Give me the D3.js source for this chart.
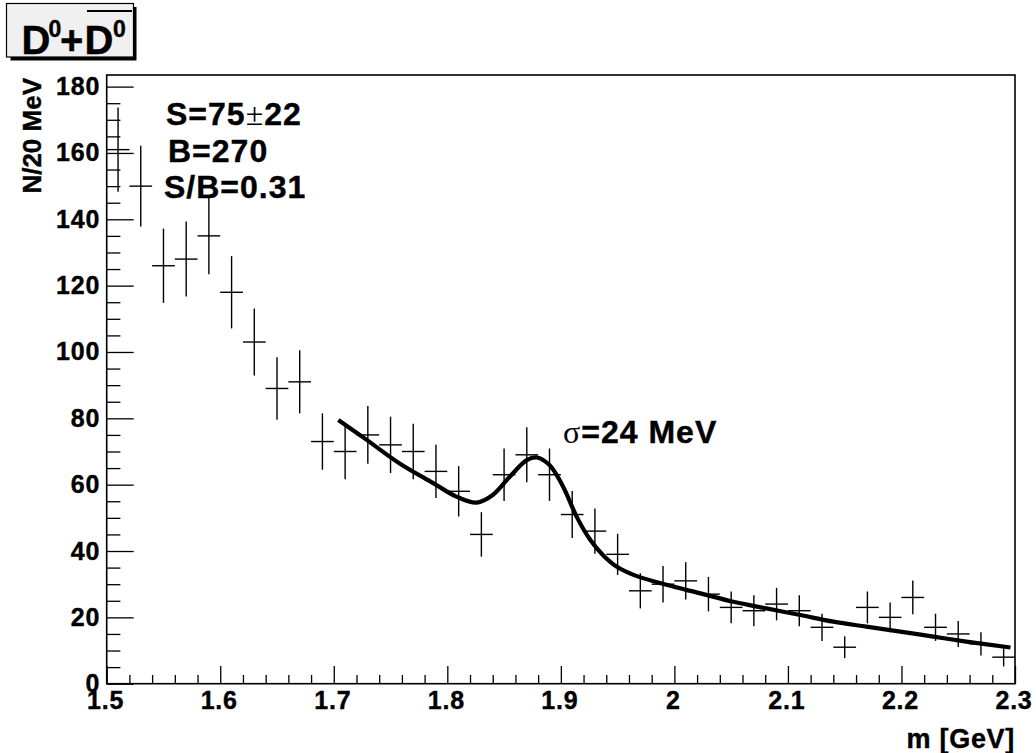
<!DOCTYPE html>
<html>
<head>
<meta charset="utf-8">
<script src="https://cdn.jsdelivr.net/npm/d3@7"></script>
<style>
  html, body { margin: 0; padding: 0; background: #fff; }
  svg { display: block; }
  text { font-family: "Liberation Sans", Arial, Helvetica, sans-serif; font-weight: bold; fill: #000; stroke: #000; stroke-width: 0.4; }
</style>
</head>
<body>
<svg id="chart" width="1036" height="753"></svg>
<script>
// bin centres, GeV (20 MeV bins)
const binCenters = [
  1.51, 1.53, 1.55, 1.57, 1.59, 1.61, 1.63, 1.65, 1.67, 1.69,
  1.71, 1.73, 1.75, 1.77, 1.79, 1.81, 1.83, 1.85, 1.87, 1.89,
  1.91, 1.93, 1.95, 1.97, 1.99, 2.01, 2.03, 2.05, 2.07, 2.09,
  2.11, 2.13, 2.15, 2.17, 2.19, 2.21, 2.23, 2.25, 2.27, 2.29
]
const binWidth = 0.02

// entries per bin
const counts = [
  161, 150, 126, 128, 135, 118, 103, 89, 91, 73,
  70, 75, 72, 70, 64, 58, 45, 63, 69, 63,
  51, 46, 39, 28, 30, 31, 27, 23, 22, 24,
  22, 17, 11, 23, 20, 26, 17, 15, 12, 8
]

// statistical errors
const errors = [
  12.7, 12.2, 11.2, 11.3, 11.6, 10.9, 10.1, 9.4, 9.5, 8.5,
  8.4, 8.7, 8.5, 8.4, 8.0, 7.6, 6.7, 7.9, 8.3, 7.9,
  7.1, 6.8, 6.2, 5.3, 5.5, 5.6, 5.2, 4.8, 4.7, 4.9,
  4.7, 4.1, 3.3, 4.8, 4.5, 5.1, 4.1, 3.9, 3.5, 2.8
]

// fit curve (signal + background)
const fitMass = [
  1.704, 1.729, 1.758, 1.788, 1.808, 1.826, 1.840, 1.855, 1.870, 1.879,
  1.890, 1.902, 1.914, 1.926, 1.937, 1.949, 1.964, 1.993, 2.022, 2.052,
  2.081, 2.111, 2.140, 2.169, 2.199, 2.228, 2.257, 2.296
]
const fitValue = [
  79.5, 73.5, 66.4, 60.4, 56.4, 54.6, 56.9, 62.4, 67.4, 68.2,
  65.9, 59.4, 50.3, 43.3, 38.8, 35.3, 32.8, 29.8, 27.3, 24.7,
  22.7, 20.7, 18.7, 17.2, 15.7, 14.2, 12.7, 10.9
]

// axis ticks
const xTicks = [1.5, 1.6, 1.7, 1.8, 1.9, 2.0, 2.1, 2.2, 2.3]
const yTicks = [0, 20, 40, 60, 80, 100, 120, 140, 160, 180]

const svg = d3.select('#chart')

const frame = { left: 106.7, right: 1015, top: 75, bottom: 683.7 }

const x = d3.scaleLinear()
  .domain([1.5, 2.3])
  .range([frame.left, frame.right])

const y = d3.scaleLinear()
  .domain([0, 183.5])
  .range([frame.bottom, frame.top])

/**
 * 标题框 D0 + D0bar
 */
function drawTitle(selection) {
  const g = selection.append('g')

  // shadow
  g.append('rect')
    .attr('x', 10.5).attr('y', 7)
    .attr('width', 126).attr('height', 53.5)
    .attr('fill', '#000')

  g.append('rect')
    .attr('x', 6.5).attr('y', 3.5)
    .attr('width', 127).attr('height', 53.5)
    .attr('fill', '#f0f0f0')
    .attr('stroke', '#000')
    .attr('stroke-width', 1.2)

  const t = g.append('text')
    .attr('font-size', 40)

  t.append('tspan').attr('x', 21.5).attr('y', 53.5).text('D')
  t.append('tspan').attr('x', 48.5).attr('y', 36.5).attr('font-size', 23).text('0')
  t.append('tspan').attr('x', 60).attr('y', 53.5).text('+')
  t.append('tspan').attr('x', 84.5).attr('y', 53.5).text('D')
  t.append('tspan').attr('x', 113).attr('y', 36.5).attr('font-size', 23).text('0')

  // bar over the second D0
  g.append('line')
    .attr('x1', 87).attr('x2', 132)
    .attr('y1', 11).attr('y2', 11)
    .attr('stroke', '#000')
    .attr('stroke-width', 2)
}

/**
 * 坐标轴和外框
 */
function drawAxes(selection) {
  const yMinor = d3.range(0, 184, 5).filter(d => d % 20 !== 0)
  const xMinor = d3.range(1.5, 2.301, 0.02).filter(d => Math.abs(d * 10 - Math.round(d * 10)) > 1e-6)

  // y minor ticks
  selection.append('g')
    .attr('transform', `translate(${frame.left},0)`)
    .call(d3.axisLeft(y).tickValues(yMinor).tickSize(-13.7).tickSizeOuter(0).tickFormat(''))
    .call(g => g.select('.domain').remove())

  // y major ticks
  selection.append('g')
    .attr('class', 'y-axis')
    .attr('transform', `translate(${frame.left},0)`)
    .call(d3.axisLeft(y).tickValues(yTicks).tickSize(-27).tickSizeOuter(0).tickPadding(6.5))
    .call(g => g.select('.domain').remove())

  // x minor ticks
  selection.append('g')
    .attr('transform', `translate(0,${frame.bottom})`)
    .call(d3.axisBottom(x).tickValues(xMinor).tickSize(-8.7).tickSizeOuter(0).tickFormat(''))
    .call(g => g.select('.domain').remove())

  // x major ticks
  selection.append('g')
    .attr('class', 'x-axis')
    .attr('transform', `translate(0,${frame.bottom})`)
    .call(d3.axisBottom(x).tickValues(xTicks).tickSize(-17.7).tickSizeOuter(0).tickPadding(8)
      .tickFormat(d => d3.format('')(+d.toFixed(1))))
    .call(g => g.select('.domain').remove())

  selection.selectAll('.tick line')
    .attr('stroke', '#000')
    .attr('stroke-width', 1.3)

  selection.selectAll('.tick text')
    .attr('font-family', '"Liberation Sans", Arial, sans-serif')
    .attr('font-weight', 'bold')
    .attr('font-size', 25)
    .attr('letter-spacing', 0.8)
    .attr('fill', '#000')

  selection.selectAll('.x-axis .tick text').attr('dx', -1.5)

  // frame
  selection.append('rect')
    .attr('x', frame.left).attr('y', frame.top)
    .attr('width', frame.right - frame.left)
    .attr('height', frame.bottom - frame.top)
    .attr('fill', 'none')
    .attr('stroke', '#000')
    .attr('stroke-width', 1.6)

  // axis titles
  selection.append('text')
    .attr('transform', 'translate(41,78) rotate(-90)')
    .attr('text-anchor', 'end')
    .attr('font-size', 26)
    .text('N/20 MeV')

  selection.append('text')
    .attr('x', frame.right)
    .attr('y', 748)
    .attr('text-anchor', 'end')
    .attr('font-size', 27)
    .attr('letter-spacing', 0.7)
    .text('m [GeV]')
}

/**
 * 数据点 (误差十字)
 */
function drawPoints(selection) {
  const pts = selection.append('g')
    .attr('stroke', '#000')
    .attr('stroke-width', 1.4)
    .selectAll('g')
    .data(binCenters.map((m, i) => ({ m, n: counts[i], e: errors[i] })))
    .join('g')

  pts.append('line')
    .attr('x1', d => x(d.m - binWidth / 2))
    .attr('x2', d => x(d.m + binWidth / 2))
    .attr('y1', d => y(d.n))
    .attr('y2', d => y(d.n))

  pts.append('line')
    .attr('x1', d => x(d.m))
    .attr('x2', d => x(d.m))
    .attr('y1', d => y(d.n - d.e))
    .attr('y2', d => y(d.n + d.e))
}

/**
 * 拟合曲线
 */
function drawFit(selection) {
  const line = d3.line()
    .x(d => x(d[0]))
    .y(d => y(d[1]))
    .curve(d3.curveCatmullRom.alpha(0.5))

  selection.append('path')
    .datum(fitMass.map((m, i) => [m, fitValue[i]]))
    .attr('d', line)
    .attr('fill', 'none')
    .attr('stroke', '#000')
    .attr('stroke-width', 4.2)
}

/**
 * 文字标注
 */
function drawLabels(selection) {
  const g = selection.append('g')
    .attr('font-size', 32)
    .attr('letter-spacing', 1)

  const s = g.append('text').attr('x', 166).attr('y', 125)
  s.append('tspan').text('S=75')
  s.append('tspan')
    .attr('font-family', '"Liberation Serif", "Times New Roman", serif')
    .attr('font-weight', 'normal')
    .attr('stroke-width', 0)
    .text('±')
  s.append('tspan').text('22')

  g.append('text').attr('x', 168).attr('y', 162).text('B=270')
  g.append('text').attr('x', 164).attr('y', 198).text('S/B=0.31')

  const sig = g.append('text').attr('x', 563).attr('y', 443)
  sig.append('tspan')
    .attr('font-family', '"Liberation Serif", "Times New Roman", serif')
    .attr('font-weight', 'normal')
    .attr('stroke-width', 0)
    .text('σ')
  sig.append('tspan').text('=24 MeV')
}

svg.call(drawAxes)
svg.call(drawPoints)
svg.call(drawFit)
svg.call(drawLabels)
svg.call(drawTitle)
</script>
</body>
</html>
